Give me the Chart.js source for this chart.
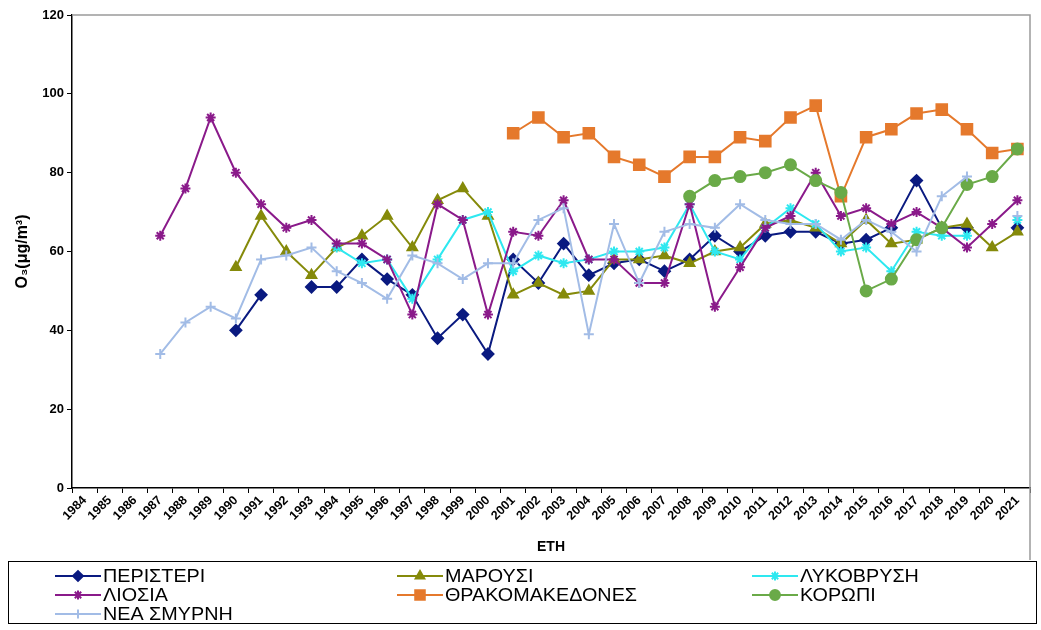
<!DOCTYPE html>
<html>
<head>
<meta charset="utf-8">
<script src="https://cdn.jsdelivr.net/npm/chart.js"></script>
<style>
  html, body { margin: 0; padding: 0; background: #fff; }
  #wrap { width: 1041px; height: 630px; position: relative; }
</style>
</head>
<body>
<div id="wrap"><canvas id="chart-o3"></canvas></div>
<script>
const years = ['1984','1985','1986','1987','1988','1989','1990','1991','1992','1993','1994','1995','1996',
  '1997','1998','1999','2000','2001','2002','2003','2004','2005','2006','2007','2008','2009','2010',
  '2011','2012','2013','2014','2015','2016','2017','2018','2019','2020','2021'];

const yTicks = [0, 20, 40, 60, 80, 100, 120];

const peristeri = [null,null,null,null,null,null, 40,49,null,51,51,58,53,49,38,44,34,
  58,52,62,54,57,58,55,58,64,60,64,65,65,62,63,66,78,66,66,null,66];
const marousi = [null,null,null,null,null,null, 56,69,60,54,61,64,69,61,73,76,69,
  49,52,49,50,58,58,59,57,60,61,67,68,66,62,68,62,63,66,67,61,65];
const lykovrysi = [null,null,null,null,null,null,null,null,null,null, 61,57,58,48,58,68,70,
  55,59,57,58,60,60,61,72,60,58,66,71,67,60,61,55,65,64,64,null,68];
const liosia = [null,null,null, 64,76,94,80,72,66,68,62,62,58,44,72,68,44,
  65,64,73,58,58,52,52,72,46,56,66,69,80,69,71,67,70,66,61,67,73];
const thrakomakedones = [null,null,null,null,null,null,null,null,null,null,null,null,null,null,null,null,null,
  90,94,89,90,84,82,79,84,84,89,88,94,97,74,89,91,95,96,91,85,86];
const koropi = [null,null,null,null,null,null,null,null,null,null,null,null,null,null,null,null,null,
  null,null,null,null,null,null,null,74,78,79,80,82,78,75,50,53,63,66,77,79,86];
const neaSmyrni = [null,null,null, 34,42,46,43,58,59,61,55,52,48,59,57,53,57,
  57,68,71,39,67,52,65,67,66,72,68,67,67,63,68,65,60,74,79,null,69];

const series = [
  { label: 'ΠΕΡΙΣΤΕΡΙ',        data: peristeri,       color: '#0a1a80', style: 'rectRot',  radius: 5.5 },
  { label: 'ΜΑΡΟΥΣΙ',          data: marousi,         color: '#858a0a', style: 'triangle', radius: 5.5 },
  { label: 'ΛΥΚΟΒΡΥΣΗ',        data: lykovrysi,       color: '#2ee8f0', style: 'star',     radius: 5 },
  { label: 'ΛΙΟΣΙΑ',           data: liosia,          color: '#8a1a8a', style: 'star',     radius: 5 },
  { label: 'ΘΡΑΚΟΜΑΚΕΔΟΝΕΣ',   data: thrakomakedones, color: '#e5792c', style: 'rect',     radius: 7.5 },
  { label: 'ΚΟΡΩΠΙ',           data: koropi,          color: '#6aaa48', style: 'circle',   radius: 5.5 },
  { label: 'ΝΕΑ ΣΜΥΡΝΗ',       data: neaSmyrni,       color: '#a2bce6', style: 'cross',    radius: 5 },
];

const FONT = 'Liberation Sans, Arial, sans-serif';

// gray frame on top and right of plot area
const frame = {
  id: 'frame',
  beforeDatasetsDraw(chart) {
    const { ctx, chartArea: a } = chart;
    ctx.save();
    ctx.strokeStyle = '#9a9a9a';
    ctx.lineWidth = 1.5;
    ctx.beginPath();
    ctx.moveTo(a.left, a.top);
    ctx.lineTo(a.right, a.top);
    ctx.lineTo(a.right, chart.height - 70);
    ctx.stroke();
    ctx.restore();
  }
};

// boxed legend in three columns
const boxLegend = {
  id: 'boxLegend',
  afterDraw(chart) {
    const ctx = chart.ctx;
    const colX = [55, 397, 752];
    const rowY = [576, 595, 614];
    ctx.save();
    ctx.strokeStyle = '#000';
    ctx.lineWidth = 1;
    ctx.strokeRect(8.5, 561.5, 1028, 62);
    ctx.font = '19px ' + FONT;
    ctx.textBaseline = 'middle';
    ctx.textAlign = 'left';
    series.forEach((s, i) => {
      const x = colX[i % 3];
      const y = rowY[Math.floor(i / 3)];
      ctx.strokeStyle = s.color;
      ctx.lineWidth = 2;
      ctx.beginPath();
      ctx.moveTo(x, y);
      ctx.lineTo(x + 46, y);
      ctx.stroke();
      ctx.fillStyle = s.color;
      Chart.helpers.drawPoint(ctx, { pointStyle: s.style, radius: s.radius * 0.9, rotation: 0, borderWidth: 2 }, x + 23, y);
      ctx.fillStyle = '#000';
      ctx.save();
      ctx.translate(x + 48, y + 1);
      ctx.scale(1.04, 1);
      ctx.fillText(s.label, 0, 0);
      ctx.restore();
    });
    ctx.restore();
  }
};

new Chart(document.getElementById('chart-o3'), {
  type: 'line',
  data: {
    labels: years,
    datasets: series.map((s, i) => ({
      label: s.label,
      data: s.data,
      borderColor: s.color,
      backgroundColor: s.color,
      pointBorderColor: s.color,
      pointBackgroundColor: s.color,
      pointStyle: s.style,
      pointRadius: s.radius,
      pointBorderWidth: 2,
      borderWidth: 2,
      tension: 0,
      spanGaps: false,
      order: series.length - i,
    }))
  },
  options: {
    responsive: true,
    maintainAspectRatio: false,
    animation: false,
    layout: { padding: { top: 15, right: 11, left: 0, bottom: 70 } },
    plugins: {
      legend: { display: false },
      tooltip: { enabled: false }
    },
    scales: {
      x: {
        offset: true,
        afterFit: scale => { scale.height = 72; },
        grid: { display: true, drawOnChartArea: false, offset: true, tickLength: 5, color: '#000' },
        border: { display: true, color: '#000', width: 1.5 },
        ticks: {
          autoSkip: false,
          minRotation: 45,
          maxRotation: 45,
          padding: 0,
          color: '#000',
          font: { family: FONT, size: 12.5, weight: 'bold' }
        },
        title: {
          display: true,
          text: 'ΕΤΗ',
          color: '#000',
          padding: { top: 2, bottom: 4 },
          font: { family: FONT, size: 14, weight: 'bold' }
        }
      },
      y: {
        min: 0,
        max: 120,
        afterFit: scale => { scale.width = 72; },
        afterBuildTicks: scale => { scale.ticks = yTicks.map(v => ({ value: v })); },
        grid: { display: true, drawOnChartArea: false, tickLength: 5, color: '#000' },
        border: { display: true, color: '#000', width: 1.5 },
        ticks: {
          padding: 3,
          color: '#000',
          font: { family: FONT, size: 13, weight: 'bold' }
        },
        title: {
          display: true,
          text: 'O₃(μg/m³)',
          color: '#000',
          padding: { top: 13, bottom: 0 },
          font: { family: FONT, size: 16, weight: 'bold' }
        }
      }
    }
  },
  plugins: [frame, boxLegend]
});
</script>
</body>
</html>
